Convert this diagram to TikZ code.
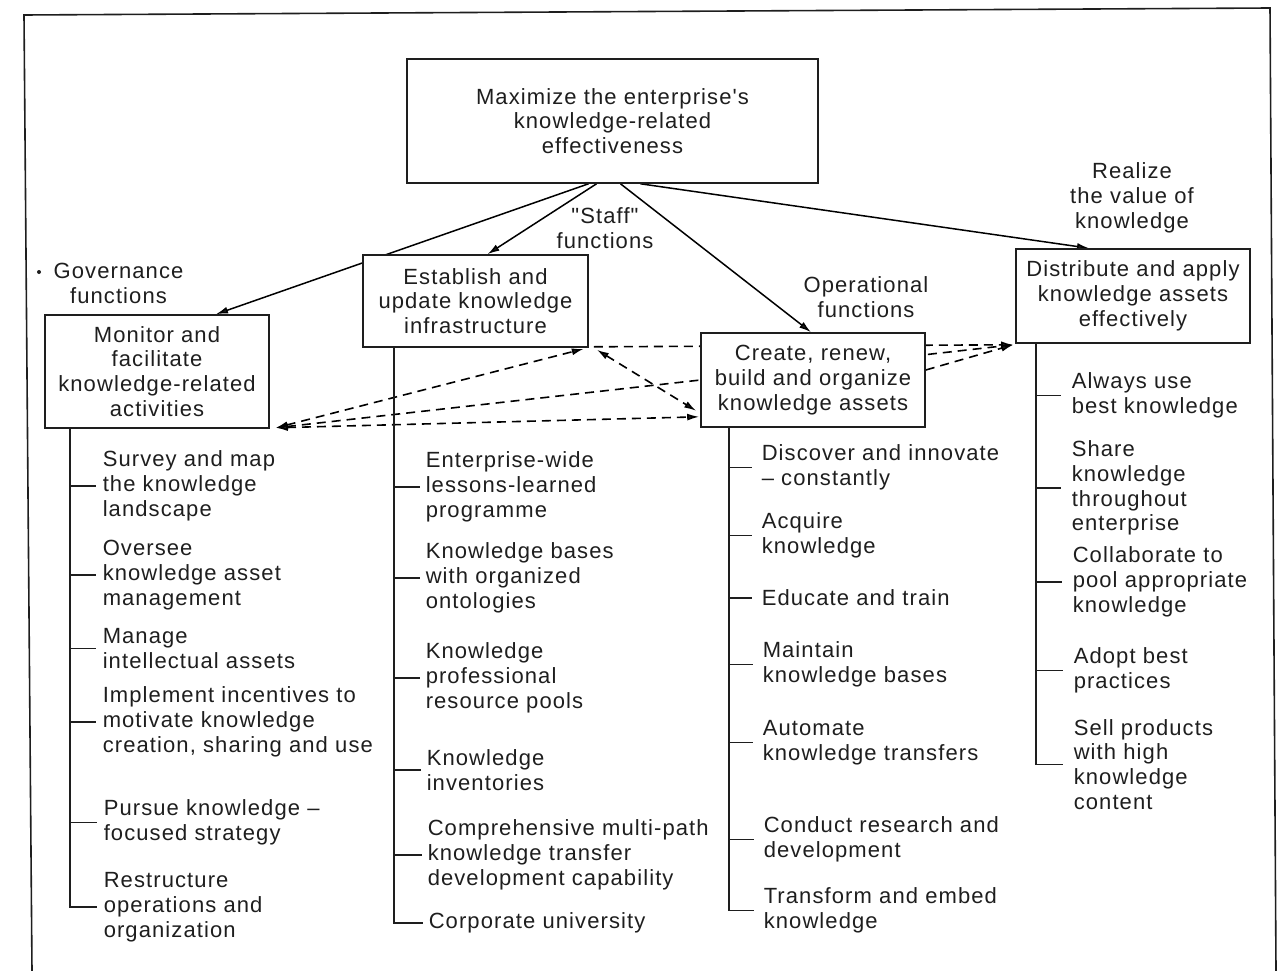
\documentclass[tikz,border=0pt]{standalone}
\usepackage{fontspec}
\setmainfont{Liberation Sans}[LetterSpace=5, Ligatures=TeXOff]
\usetikzlibrary{arrows.meta,calc,backgrounds}
\definecolor{ink}{RGB}{30,30,30}
\begin{document}
\begin{tikzpicture}[x=1pt,y=-1pt, line width=1.5pt, draw=ink, text=ink,
  every node/.style={font=\fontsize{22}{24.8}\selectfont, text=ink},
  box/.style={draw=ink, fill=white, line width=1.6pt, align=center, inner sep=0pt},
  leaf/.style={anchor=west, align=left, inner sep=0pt},
  lbl/.style={align=center, inner sep=0pt},
  arr/.style={-{Latex[length=12pt,width=7pt]}, line width=1.5pt},
  darr/.style={{Latex[length=12pt,width=7pt]}-{Latex[length=12pt,width=7pt]}, dash pattern=on 9pt off 6pt, line width=1.6pt},
  darrone/.style={-{Latex[length=12pt,width=7pt]}, dash pattern=on 9pt off 6pt, line width=1.6pt},
  tick/.style={line width=1.5pt}
]
\useasboundingbox (0,0) rectangle (1277,971);
% outer frame (slightly skewed scan)
\draw[line width=1.6pt] (32,971) -- (24,15) -- (1270,8) -- (1276,971);

% main boxes
\node[box, minimum width=411pt, minimum height=124pt] (top) at (612.5,121) {Maximize the enterprise's\\knowledge-related\\effectiveness};
\node[box, minimum width=225pt, minimum height=92pt] (establish) at (475.5,301) {Establish and\\update knowledge\\infrastructure};
\node[box, minimum width=224pt, minimum height=113pt] (monitor) at (157,371.5) {Monitor and\\facilitate\\knowledge-related\\activities};
\node[box, minimum width=224pt, minimum height=94pt] (create) at (813,380) {Create, renew,\\build and organize\\knowledge assets};
\node[box, minimum width=234pt, minimum height=94pt] (distribute) at (1133,296) {Distribute and apply\\knowledge assets\\effectively};

% labels
\fill[ink] (39,272) circle (2);
\node[lbl] (gov) at (118.5,283.5) {Governance\\functions};
\node[lbl] (staff) at (605,228.5) {"Staff"\\functions};
\node[lbl] (oper) at (866,297.5) {Operational\\functions};
\node[lbl] (real) at (1132,198) {Realize\\the value of\\knowledge};

% leaves: monitor
\node[leaf] (m1) at (102,486) {Survey and map\\the knowledge\\landscape};
\node[leaf] (m2) at (102,575) {Oversee\\knowledge asset\\management};
\node[leaf] (m3) at (102,648.5) {Manage\\intellectual assets};
\node[leaf] (m4) at (102,722) {Implement incentives to\\motivate knowledge\\creation, sharing and use};
\node[leaf] (m5) at (103,822.5) {Pursue knowledge \textendash\\focused strategy};
\node[leaf] (m6) at (103,907) {Restructure\\operations and\\organization};
% leaves: establish
\node[leaf] (e1) at (425,487) {Enterprise-wide\\lessons-learned\\programme};
\node[leaf] (e2) at (425,578) {Knowledge bases\\with organized\\ontologies};
\node[leaf] (e3) at (425,678) {Knowledge\\professional\\resource pools};
\node[leaf] (e4) at (426,770) {Knowledge\\inventories};
\node[leaf] (e5) at (427,855) {Comprehensive multi-path\\knowledge transfer\\development capability};
\node[leaf] (e6) at (428,923) {Corporate university};
% leaves: create
\node[leaf] (c1) at (761,467.5) {Discover and innovate\\\textendash{} constantly};
\node[leaf] (c2) at (761,535.5) {Acquire\\knowledge};
\node[leaf] (c3) at (761,598) {Educate and train};
\node[leaf] (c4) at (762,664.5) {Maintain\\knowledge bases};
\node[leaf] (c5) at (762,742.5) {Automate\\knowledge transfers};
\node[leaf] (c6) at (763,839.5) {Conduct research and\\development};
\node[leaf] (c7) at (763,910.5) {Transform and embed\\knowledge};
% leaves: distribute
\node[leaf] (d1) at (1071,395.5) {Always use\\best knowledge};
\node[leaf] (d2) at (1071,488) {Share\\knowledge\\throughout\\enterprise};
\node[leaf] (d3) at (1072,582) {Collaborate to\\pool appropriate\\knowledge};
\node[leaf] (d4) at (1073,670.5) {Adopt best\\practices};
\node[leaf] (d5) at (1073,764.5) {Sell products\\with high\\knowledge\\content};

% trunks and ticks
\coordinate (mt) at ($(monitor.south west)+(26,0)$);
\coordinate (et) at ($(establish.south west)+(32,0)$);
\coordinate (ct) at ($(create.south west)+(29,0)$);
\coordinate (dt) at ($(distribute.south west)+(21,0)$);
\draw[tick] (mt) -- (mt |- m6.west) -- ([xshift=-6pt]m6.west);
\foreach \n in {m1,m2,m3,m4,m5} \draw[tick] (mt |- \n.west) -- ([xshift=-6pt]\n.west);
\draw[tick] (et) -- (et |- e6.west) -- ([xshift=-5pt]e6.west);
\foreach \n in {e1,e2,e3,e4,e5} \draw[tick] (et |- \n.west) -- ([xshift=-5pt]\n.west);
\draw[tick] (ct) -- (ct |- c7.west) -- ([xshift=-9pt]c7.west);
\foreach \n in {c1,c2,c3,c4,c5,c6} \draw[tick] (ct |- \n.west) -- ([xshift=-9pt]\n.west);
\draw[tick] (dt) -- (dt |- d5.west) -- ([xshift=-10pt]d5.west);
\foreach \n in {d1,d2,d3,d4} \draw[tick] (dt |- \n.west) -- ([xshift=-10pt]\n.west);

\begin{pgfonlayer}{background}
% solid arrows from the top box
\draw[arr] ($(top.south)+(-24,0)$) -- ($(monitor.north)+(59,0)$);
\draw[arr] ($(top.south)+(-16,0)$) -- ($(establish.north)+(12,0)$);
\draw[arr] ($(top.south)+(8,0)$) -- ($(create.north)+(-2,0)$);
\draw[arr] ($(top.south)+(28,0)$) -- ($(distribute.north)+(-44,0)$);
% dashed interrelations
\coordinate (mc) at ($(monitor.south east)+(6,-1)$);
\coordinate (ec) at (establish.south east);
\coordinate (dc) at ($(distribute.south west)+(-2,1)$);
\draw[darr] (mc) -- ($(ec)+(-5,1)$);
\draw[darr] (mc) -- (dc);
\draw[darr] (mc) -- ($(create.south west)+(-1,-11)$);
\draw[darr] ($(ec)+(8,2)$) -- ($(create.south west)+(-4,-17)$);
\draw[darrone] ($(ec)+(5,-1)$) -- (dc);
\draw[darrone] ($(create.east)+(0,-10)$) -- (dc);
\end{pgfonlayer}
\end{tikzpicture}
\end{document}
